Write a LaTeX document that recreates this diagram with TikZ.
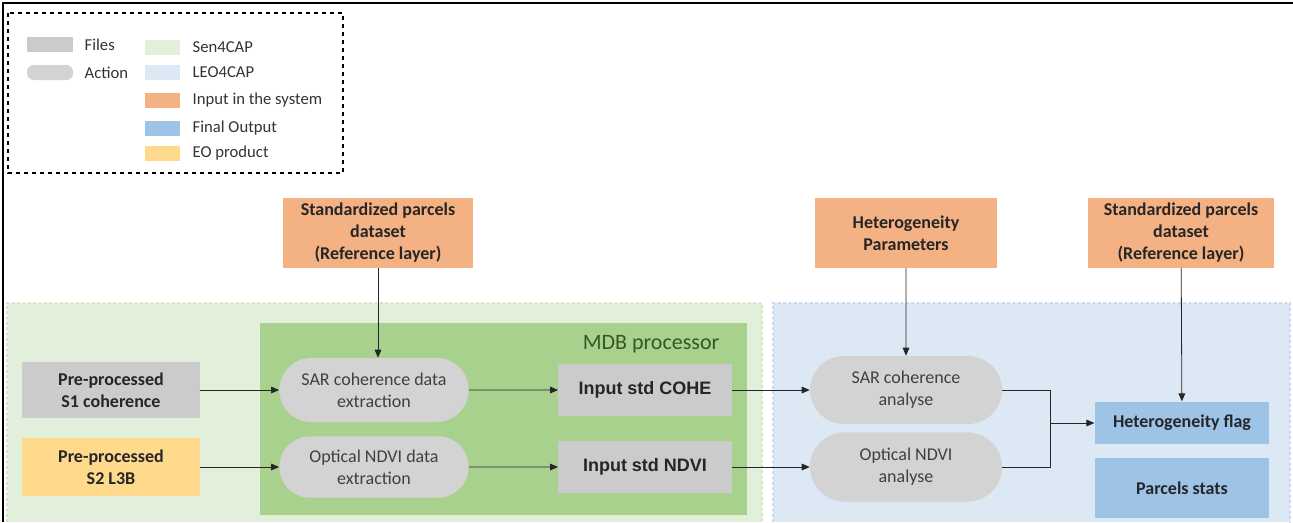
\documentclass[tikz,border=0pt]{standalone}
\usepackage{fontspec}
\setmainfont{Carlito}
\newfontfamily\arialfont{Liberation Sans}
\usetikzlibrary{arrows.meta,positioning,shapes.misc}

\definecolor{senfill}{HTML}{E2EFDA}
\definecolor{senedge}{HTML}{CFE5C3}
\definecolor{mdbfill}{HTML}{A9D18E}
\definecolor{mdbtext}{HTML}{385723}
\definecolor{leofill}{HTML}{DDE8F5}
\definecolor{leoedge}{HTML}{C9D9EE}
\definecolor{inorange}{HTML}{F4B183}
\definecolor{outblue}{HTML}{9DC3E6}
\definecolor{eoyellow}{HTML}{FFD98C}
\definecolor{filegray}{HTML}{CBCBCB}
\definecolor{actgray}{HTML}{D3D3D3}
\definecolor{acttext}{HTML}{404040}

\tikzset{
  filebox/.style={rectangle,fill=filegray,text=black!85,align=center,inner sep=2pt,
    font=\bfseries\fontsize{13.5}{16.5}\selectfont},
  actionbox/.style={rounded rectangle,fill=actgray,text=acttext,align=center,inner sep=2pt,
    font=\fontsize{13.5}{16.5}\selectfont},
  stdbox/.style={filebox,font=\arialfont\bfseries\fontsize{13.5}{16}\selectfont},
  inbox/.style={filebox,fill=inorange},
  outbox/.style={filebox,fill=outblue},
  flow/.style={-{Triangle[length=6pt,width=5pt]},line width=0.6pt,draw=black!85},
  legtext/.style={anchor=west,text=black!80,font=\fontsize{12.5}{14}\selectfont},
}

\begin{document}
\begin{tikzpicture}[x=0.75pt,y=-0.75pt]
\useasboundingbox (0,0) rectangle (1293,522);
\draw[line width=0.8pt] (3,522)--(3,3)--(1293,3);

% legend
\draw[dashed,line width=0.8pt] (8,13) rectangle (343,173);
\fill[filegray] (27,37) rectangle (73,52);
\node[legtext] (lfiles) at (80,44.5) {Files};
\fill[actgray,rounded corners=5pt] (27,65) rectangle (73,80);
\node[legtext] (laction) at (80,72.5) {Action};
\fill[senfill] (145,40) rectangle (180,55);
\node[legtext] (lsen) at (188,47.5) {Sen4CAP};
\fill[leofill] (145,65) rectangle (180,80);
\node[legtext] (lleo) at (188,72.5) {LEO4CAP};
\fill[inorange] (145,93) rectangle (180,108);
\node[legtext] (lin) at (188,100.5) {Input in the system};
\fill[outblue] (145,121) rectangle (180,136);
\node[legtext] (lout) at (188,128.5) {Final Output};
\fill[eoyellow] (145,146) rectangle (180,161);
\node[legtext] (leo) at (188,153.5) {EO product};

% areas
\draw[senedge,fill=senfill,dash pattern=on 2pt off 2pt,line width=1.2pt] (7,522) -- (7,303) -- (762,303) -- (762,522);
\draw[leoedge,fill=leofill,dash pattern=on 2pt off 2pt,line width=1.2pt] (773,522) -- (773,303) -- (1290,303) -- (1290,522);
\fill[mdbfill] (260,323) rectangle (747,515);
\node[anchor=east,text=mdbtext,font=\fontsize{16.5}{18}\selectfont] (mdb) at (724,344) {MDB processor};

% inputs
\node[inbox,minimum width=142pt,minimum height=52pt] (parcelsA) at (378,233)
  {Standardized parcels\\dataset\\(Reference layer)};
\node[inbox,minimum width=137pt,minimum height=52pt] (hetpar) at (906,233)
  {Heterogeneity\\Parameters};
\node[inbox,minimum width=140pt,minimum height=52pt] (parcelsB) at (1181,233)
  {Standardized parcels\\dataset\\(Reference layer)};

% files and actions
\node[filebox,minimum width=133pt,minimum height=42pt] (s1) at (111,390)
  {Pre-processed\\S1 coherence};
\node[filebox,fill=eoyellow,minimum width=133pt,minimum height=44pt] (s2) at (111,467)
  {Pre-processed\\S2 L3B};
\node[actionbox,minimum width=146pt,minimum height=48pt] (sarext) at (374,390)
  {SAR coherence data\\extraction};
\node[actionbox,minimum width=146pt,minimum height=46pt] (optext) at (374,467)
  {Optical NDVI data\\extraction};
\node[stdbox,minimum width=130pt,minimum height=39pt] (cohe) at (645,390) {Input std COHE};
\node[stdbox,minimum width=130pt,minimum height=39pt] (ndvi) at (645,467) {Input std NDVI};
\node[actionbox,minimum width=148pt,minimum height=51pt] (sarana) at (906,390)
  {SAR coherence\\analyse};
\node[actionbox,minimum width=148pt,minimum height=52pt] (optana) at (906,467)
  {Optical NDVI\\analyse};
\node[outbox,minimum width=131pt,minimum height=32pt] (hflag) at (1182,423) {Heterogeneity flag};
\node[outbox,minimum width=131pt,minimum height=45pt] (pstats) at (1182,488) {Parcels stats};
\coordinate (merge) at (1050,423);

% connectors
\draw[flow] (parcelsA) -- (parcelsA|-sarext.north);
\draw[flow] (hetpar) -- (sarana);
\draw[flow] (parcelsB) -- (hflag);
\draw[flow] (s1) -- (sarext);
\draw[flow] (s2) -- (optext);
\draw[flow] (sarext) -- (cohe);
\draw[flow] (optext) -- (ndvi);
\draw[flow] (cohe) -- (sarana);
\draw[flow] (ndvi) -- (optana);
\draw[line width=0.6pt,draw=black!85] (sarana.east) -| (merge) |- (optana.east);
\draw[flow] (merge) -- (hflag);
\end{tikzpicture}
\end{document}
